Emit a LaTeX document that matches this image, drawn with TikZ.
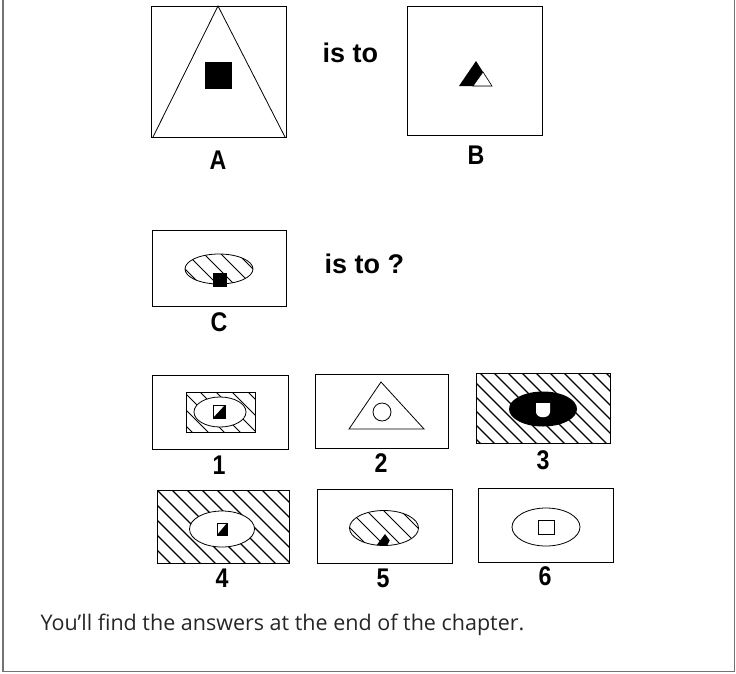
\documentclass[tikz,border=0pt]{standalone}
\usepackage{fontspec}
\setsansfont{Liberation Sans}
\newfontfamily\labfont{Liberation Sans}[FakeStretch=0.86]
\newfontfamily\notefont{Open Sans}
\tikzset{
  panel/.style={line width=0.9pt},
  figline/.style={line width=0.8pt},
  hatch/.style={line width=1pt},
  lab/.style={font=\labfont\bfseries\fontsize{27}{27}\selectfont},
  phrase/.style={anchor=base west,font=\sffamily\bfseries\fontsize{27}{27}\selectfont},
}
\newcommand{\hatchlines}[1][14]{\foreach \k in {-16,...,16} \draw[hatch] ({\k*#1-100},-100) -- ++(200,200);}

\begin{document}
\begin{tikzpicture}[x=1pt,y=-1pt]
\useasboundingbox (0,0) rectangle (736,673);
% outer frame, open at the top
\draw[black!55,line width=1.6pt] (3,0) -- (3,671.5) -- (734.5,671.5) -- (734.5,0);

% A
\draw[panel] (151,6) rectangle (286,137);
\draw[figline] (153,137) -- (218,6) -- (285,137);
\fill (205,62) rectangle (232,89);
\node[lab] (labA) at (218,160) {A};

\node[phrase] (isto) at (319,62) {is to};

% B
\draw[panel] (407,6) rectangle (542,135);
\fill (476,61) -- (459,86) -- (492,86) -- cycle;
\filldraw[fill=white,line width=0.6pt] (473,86) -- (492,86) -- (483,72) -- cycle;
\node[lab] (labB) at (476,155) {B};

% C
\draw[panel] (152,230) rectangle (286,306);
\begin{scope}[shift={(219,269)}]
  \clip (0,0) ellipse (34pt and 15pt);
  \hatchlines[17]
\end{scope}
\draw[figline] (219,269) ellipse (34pt and 15pt);
\fill (213,273) rectangle (227,287);
\node[lab] (labC) at (219,322) {C};

\node[phrase] (istoq) at (321,273) {is to ?};

% 1
\draw[panel] (152,375) rectangle (288,449);
\begin{scope}
  \clip (186,392) rectangle (255,432);
  \begin{scope}[shift={(220,412)}]
    \hatchlines[16]
  \end{scope}
\end{scope}
\draw[figline] (186,392) rectangle (255,432);
\filldraw[fill=white,figline] (220,412) ellipse (26pt and 15pt);
\fill (213,418) -- (225,418) -- (225,405) -- cycle;
\draw[figline] (213,405) rectangle (225,418);
\node[lab] (lab1) at (219,465) {1};

% 2
\draw[panel] (315,374) rectangle (448,448);
\draw[figline] (381,382) -- (349,429) -- (424,429) -- cycle;
\draw[figline] (382,412) circle (9pt);
\node[lab] (lab2) at (381,463) {2};

% 3
\draw[panel] (476,373) rectangle (610,443);
\begin{scope}
  \clip (476,373) rectangle (610,443);
  \begin{scope}[shift={(543,408)},hatch/.append style={line width=1.4pt}]
    \hatchlines[14]
  \end{scope}
\end{scope}
\fill (543,409) ellipse (34pt and 17.5pt);
\fill[white] (536,403) -- (550,403) -- (550,412) .. controls (550,419) and (536,419) .. (536,412) -- cycle;
\node[lab] (lab3) at (543,460) {3};

% 4
\draw[panel] (157,490) rectangle (289,563);
\begin{scope}
  \clip (157,490) rectangle (289,563);
  \begin{scope}[shift={(223,526)},hatch/.append style={line width=1.2pt}]
    \hatchlines[15]
  \end{scope}
\end{scope}
\filldraw[fill=white,figline] (222,529) ellipse (32.5pt and 18pt);
\fill (217,535) -- (227,535) -- (227,523) -- cycle;
\draw[figline] (217,523) rectangle (227,535);
\node[lab] (lab4) at (222,578) {4};

% 5
\draw[panel] (317,489) rectangle (452,563);
\begin{scope}[shift={(384,528)}]
  \clip (0,0) ellipse (34.5pt and 17.5pt);
  \hatchlines[17]
  \fill (1,6) -- (-8,18) -- (10,18) -- cycle;
  \fill[white] (3,18) -- (10,18) -- (6,12) -- cycle;
\end{scope}
\draw[figline] (384,528) ellipse (34.5pt and 17.5pt);
\node[lab] (lab5) at (383,578) {5};

% 6
\draw[panel] (478,488) rectangle (613,562);
\draw[figline] (546,527) ellipse (34pt and 19pt);
\draw[figline] (538,520) rectangle (554,534);
\node[lab] (lab6) at (545,576) {6};

\node[anchor=base west,font=\notefont\fontsize{21.5}{22}\selectfont,text=black!85] (note) at (37,630) {You’ll find the answers at the end of the chapter.};
\end{tikzpicture}
\end{document}
